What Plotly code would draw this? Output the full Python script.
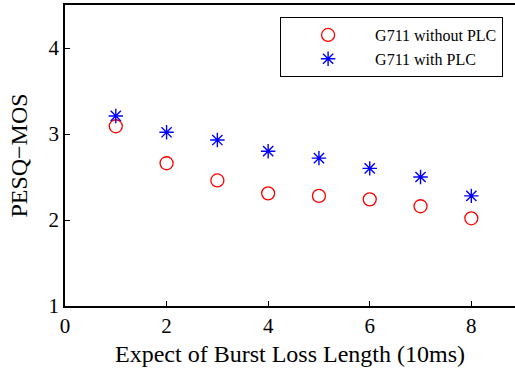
import plotly.graph_objects as go

x_vals = [1, 2, 3, 4, 5, 6, 7, 8]
without_plc = [3.09, 2.66, 2.46, 2.31, 2.28, 2.24, 2.16, 2.02]
with_plc = [3.21, 3.02, 2.93, 2.80, 2.72, 2.60, 2.50, 2.28]
x_ticks = [0, 2, 4, 6, 8]
y_ticks = [1, 2, 3, 4]

FONT = "Liberation Serif"

fig = go.Figure()
fig.add_trace(go.Scatter(
    x=x_vals, y=without_plc, mode="markers", name="G711 without PLC",
    marker=dict(symbol="circle-open", size=13, color="#ff0000", line=dict(width=1.3, color="#ff0000")),
))
fig.add_trace(go.Scatter(
    x=x_vals, y=with_plc, mode="markers", name="G711 with PLC",
    marker=dict(symbol="asterisk-open", size=12, color="#0000ff", line=dict(width=1.4, color="#0000ff")),
))

fig.update_layout(
    width=515, height=374,
    margin=dict(l=65, r=0, t=5, b=68, autoexpand=False),
    paper_bgcolor="white", plot_bgcolor="white",
    font=dict(family=FONT, color="black"),
    showlegend=True,
    legend=dict(
        x=0.478, y=0.96, xanchor="left", yanchor="top",
        bordercolor="black", borderwidth=1, bgcolor="white",
        font=dict(family=FONT, size=16, color="black"),
        itemwidth=84, tracegroupgap=0,
    ),
    xaxis=dict(
        range=[0, 8.86], tickvals=x_ticks, ticktext=[str(v) for v in x_ticks],
        showgrid=False, zeroline=False, showline=True, linecolor="black", linewidth=1.5,
        mirror=True, ticks="inside", ticklen=5, tickwidth=1, tickcolor="black",
        tickfont=dict(family=FONT, size=21, color="black"), automargin=False,
        title=dict(text="Expect of Burst Loss Length (10ms)", font=dict(family=FONT, size=24, color="black"), standoff=8),
    ),
    yaxis=dict(
        range=[1, 4.5], tickvals=y_ticks, ticktext=[str(v) for v in y_ticks],
        showgrid=False, zeroline=False, showline=True, linecolor="black", linewidth=1.5,
        mirror=False, ticks="inside", ticklen=5, tickwidth=1, tickcolor="black",
        tickfont=dict(family=FONT, size=21, color="black"), automargin=False,
        title=dict(text="PESQ\u2212MOS", font=dict(family=FONT, size=24, color="black"), standoff=14),
    ),
)

fig.write_html("out.html", config={"displayModeBar": False},
               post_script="document.body.style.margin='0';document.body.style.overflow='hidden';")
